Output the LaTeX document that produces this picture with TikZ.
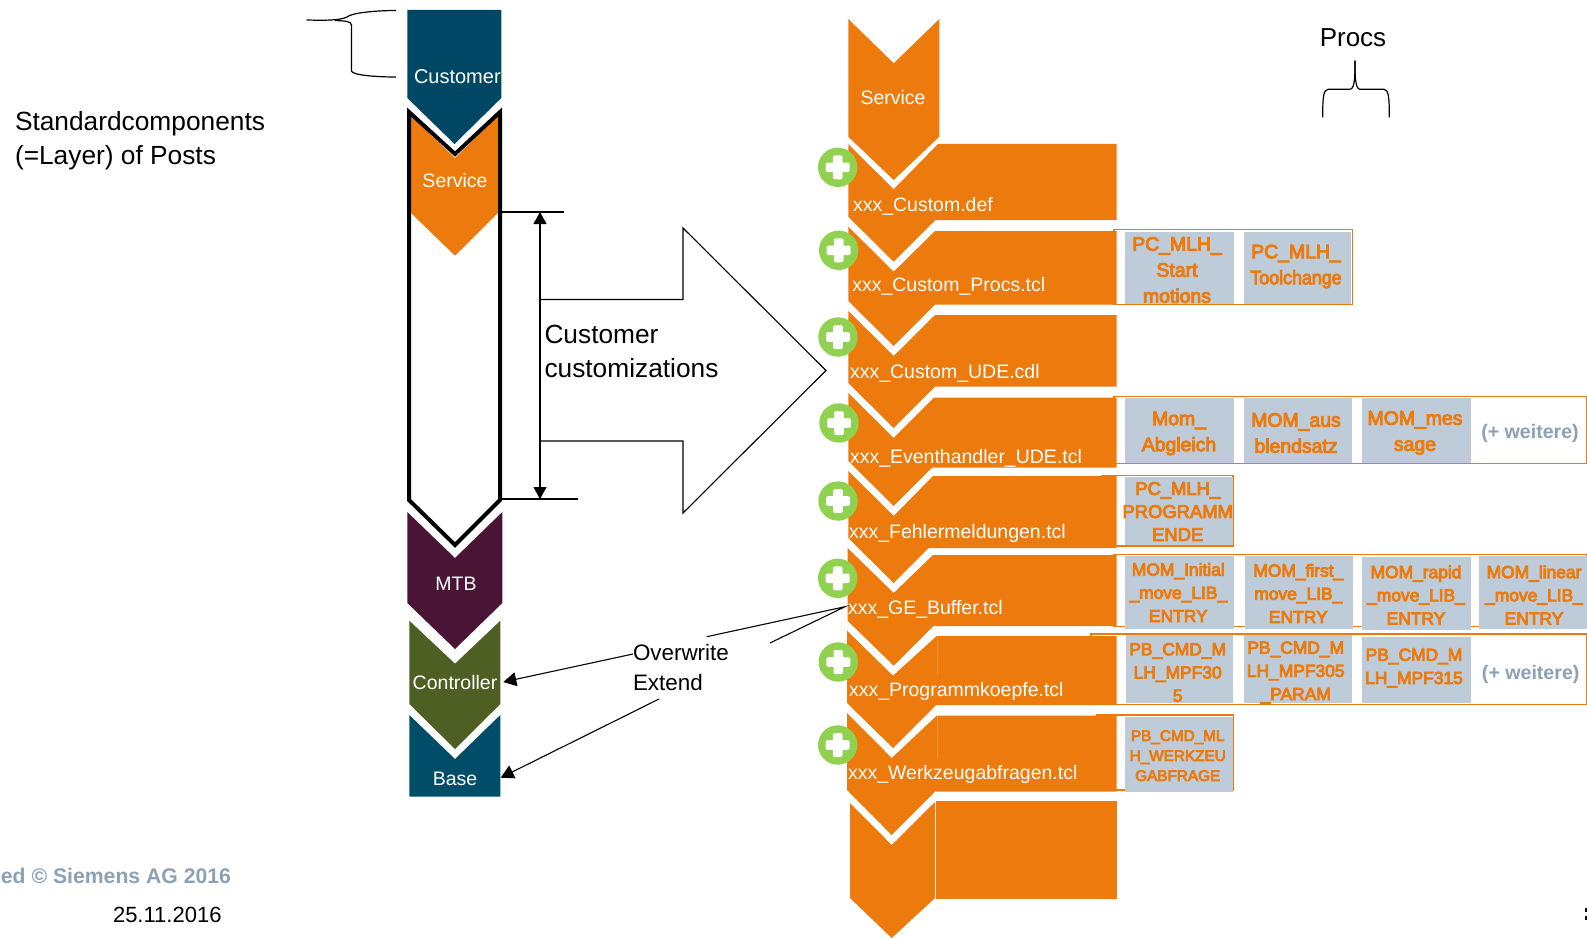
\documentclass[tikz,border=0pt]{standalone}
\usepackage{fontspec}
\usepackage{graphicx}
\setmainfont{Liberation Sans}
\newfontfamily\procfont[FakeBold=5]{Liberation Sans}
\usetikzlibrary{arrows.meta}
\definecolor{sorange}{HTML}{EC7A0C}
\definecolor{sblue}{HTML}{004765}
\definecolor{sbase}{HTML}{004D6A}
\definecolor{smtb}{HTML}{4A1535}
\definecolor{solive}{HTML}{4E5F23}
\definecolor{sgreen}{HTML}{90D150}
\definecolor{sbox}{HTML}{BDCCD8}
\definecolor{sgrey}{HTML}{8CA2B4}
\newcommand{\fs}[2]{\fontsize{#1}{#2}\selectfont}
\newcommand{\sq}[2]{\scalebox{#1}[1]{#2}}
\tikzset{
  x=1pt,y=-1pt,
  plainlabel/.style={inner sep=0,outer sep=0,font=\fs{26.3}{34},anchor=west,align=left},
  whitelabel/.style={inner sep=0,outer sep=0,text=white,font=\fs{19.5}{24}},
  rowlabel/.style={whitelabel,anchor=west},
  rowshape/.style={fill=sorange,draw=none},
  procframe/.style={draw=sorange,line width=1.3pt,fill=white},
  procbox/.style={fill=sbox,draw=none},
  proctext/.style={inner sep=0,outer sep=0,text=sorange,align=center},
  moretext/.style={inner sep=0,outer sep=0,text=sgrey,font=\bfseries\fs{19.6}{24}},
  thin line/.style={draw=black,line width=1.1pt},
  tip line/.style={draw=black,line width=1.1pt,-{Triangle[length=13pt,width=14pt]}},
  brace line/.style={draw=black,line width=1.2pt},
}
\newcommand{\addmark}[3]{%
  \fill[sgreen] (#1,#2) circle[radius=19.7];
  \fill[white,rounded corners=2pt] (#1-12,#2-4.8) rectangle (#1+12,#2+4.8);
  \fill[white,rounded corners=2pt] (#1-4.8,#2-12) rectangle (#1+4.8,#2+12);
}
% row: L C N R B T(next notch -10) rightnotchx
\newcommand{\orow}[7]{%
  \fill[rowshape] (#1,#3-45) -- (#2,#3) -- (#7,#4) -- (1116.7,#4) -- (1116.7,#5)
    -- ({#2+(#6-#5)},#5) -- (#2,#6) -- (#1,#6-45) -- cycle;
}
\begin{document}
\begin{tikzpicture}
\useasboundingbox (0,0) rectangle (1587,939);
\fill[white] (0,0) rectangle (1587,939);

% left stack
\fill[sblue] (407.3,10) -- (501.3,10) -- (501.3,98) -- (454.5,144) -- (407.3,98) -- cycle;
\node[whitelabel,font=\fs{20}{24},anchor=west] (customer) at (414,76.5) {Customer};
\fill[sorange] (411,116) -- (455,158) -- (498,116) -- (498,213) -- (455,255.7) -- (411,213) -- cycle;
\draw[black,line width=4pt,miter limit=4] (409,112) -- (455,154) -- (500,112) -- (500,500) -- (455,545) -- (409,500) -- cycle;
\node[whitelabel] (service) at (455,181) {Service};
\fill[smtb] (407.3,512) -- (455,558) -- (502.3,512) -- (502.3,603) -- (455,649) -- (407.3,603) -- cycle;
\node[whitelabel] (mtb) at (456,584) {MTB};
\fill[solive] (409.3,620.7) -- (455,663.7) -- (500.3,620.7) -- (500.3,704) -- (455,749) -- (409.3,704) -- cycle;
\node[whitelabel] (controller) at (455,683) {Controller};
\fill[sbase] (409.3,715) -- (455,759) -- (500.3,715) -- (500.3,796.7) -- (409.3,796.7) -- cycle;
\node[whitelabel] (base) at (455,779) {Base};

% left brace
\draw[brace line] (306.7,20) .. controls (325,20.5) and (340,20.5) .. (347,17) .. controls (351,13) and (375,10.5) .. (396,10.5);
\draw[brace line] (335,20.5) .. controls (345,21) and (351,21) .. (351.5,25) -- (351.5,71) .. controls (352,75) and (375,77) .. (396,77);
\node[plainlabel] (std) at (15,140.5) {Standardcomponents\\(=Layer) of Posts};

% dimension
\coordinate (dimtop) at (540,212);
\coordinate (dimbot) at (540,499);
\draw[thin line,line width=1.3pt] (500,212) -- (564,212);
\draw[thin line,line width=1.3pt] (500,499) -- (578,499);
\draw[thin line,{Triangle[length=12pt,width=13pt]}-{Triangle[length=12pt,width=13pt]}] (dimtop) -- (dimbot);

% big arrow
\draw[thin line,miter limit=8] (540,299.5) -- (683,299.5) -- (683,228) -- (826,370.5) -- (683,513) -- (683,441) -- (540,441);
\node[plainlabel] (cust) at (544.5,351) {Customer\\customizations};

% right stack rows
\fill[sorange] (848.3,19) -- (893.7,63.3) -- (939.3,19) -- (939.3,136.7) -- (893.7,180) -- (848.3,136.7) -- cycle;
\node[whitelabel] (svc2) at (893,98) {Service};

% proc frames below the rows
\draw[procframe] (1114,229.3) rectangle (1352.3,304.7);
\draw[procframe] (1114,396.7) rectangle (1586.7,463.3);
\draw[procframe] (1102,475.7) rectangle (1233,546);
\draw[procframe] (1114,554.7) rectangle (1586.7,626.7);
\draw[procframe] (1091,634) rectangle (1586.7,704.7);
\draw[procframe] (1097,715) rectangle (1233.3,790);

\orow{848.3}{893.7}{189.3}{144}{220}{261.7}{938}
\orow{848.3}{893.7}{271.7}{231}{304.7}{346}{935}
\orow{848.3}{893.7}{356}{315}{386.7}{428}{935}
\orow{848.3}{893.7}{438}{397.7}{467.7}{506}{934}
\orow{848.3}{893.7}{516}{476}{548}{583}{933}
\orow{847.5}{893.7}{593}{555}{626}{665.7}{933}
\orow{847}{893}{675.7}{636}{705}{748}{936.7}
\orow{847}{891.7}{758}{715.7}{791.7}{835}{936.7}
\fill[rowshape] (850,803) -- (891.7,845) -- (935,802) -- (935,898) -- (891.7,938) -- (850,898) -- cycle;
\fill[rowshape] (936,801) rectangle (1116.7,899);
\draw[sorange!80!white,line width=.4pt] (936.7,636) -- (936.7,675);
\draw[sorange!80!white,line width=.4pt] (936.7,716) -- (936.7,758);

% row labels
\node[rowlabel] (r1) at (853,206) {xxx\_Custom.def};
\node[rowlabel] (r2) at (852.3,286.5) {xxx\_Custom\_Procs.tcl};
\node[rowlabel] (r3) at (850,373.5) {xxx\_Custom\_UDE.cdl};
\node[rowlabel] (r4) at (850,458.5) {xxx\_Eventhandler\_UDE.tcl};
\node[rowlabel] (r5) at (849,533.5) {xxx\_Fehlermeldungen.tcl};
\node[rowlabel] (r6) at (848,609) {xxx\_GE\_Buffer.tcl};
\node[rowlabel] (r7) at (849,691) {xxx\_Programmkoepfe.tcl};
\node[rowlabel] (r8) at (848,774) {xxx\_Werkzeugabfragen.tcl};

% add marks
\addmark{837.7}{167.3}{}
\addmark{838.7}{250.3}{}
\addmark{838}{337}{}
\addmark{839}{423}{}
\addmark{838}{501}{}
\addmark{837.7}{578.3}{}
\addmark{838.3}{662}{}
\addmark{837.7}{745}{}

% proc boxes
\fill[procbox] (1125,232) rectangle (1234,304);
\fill[procbox] (1244,232) rectangle (1351.3,304);
\fill[procbox] (1125,398) rectangle (1234,463);
\fill[procbox] (1244,398) rectangle (1352,463);
\fill[procbox] (1362,398) rectangle (1471,463);
\fill[procbox] (1125,476.5) rectangle (1232.5,545);
\fill[procbox] (1125,556) rectangle (1234,628.7);
\fill[procbox] (1245,556) rectangle (1353,628.7);
\fill[procbox] (1362,556.7) rectangle (1471,630);
\fill[procbox] (1479,556) rectangle (1587,629);
\fill[procbox] (1126,635) rectangle (1233,703.3);
\fill[procbox] (1244,635) rectangle (1352,703.3);
\fill[procbox] (1362,637) rectangle (1471,703.3);
\fill[procbox] (1125,716.7) rectangle (1233,791.7);

\tikzset{pa/.style={proctext,font=\procfont\fs{19.4}{26}},
         pb/.style={proctext,font=\procfont\fs{18.4}{23}},
         pc/.style={proctext,font=\procfont\fs{17.4}{23.2}},
         pd/.style={proctext,font=\procfont\fs{15.3}{20}}}
\node[pa] (p1) at (1177,270) {PC\_MLH\_\\Start\\motions};
\node[pa] (p2) at (1296,266.5) {PC\_MLH\_\\\sq{.92}{Toolchange}};
\node[pa] (p3) at (1179,433.5) {Mom\_\\Abgleich};
\node[pa] (p4) at (1296,433) {MOM\_aus\\blendsatz};
\node[pa] (p5) at (1415,433) {MOM\_mes\\sage};
\node[moretext] (m1) at (1530,433.7) {(+ weitere)};
\node[pb] (p6) at (1177.7,511.5) {PC\_MLH\_\\PROGRAMM\\ENDE};
\node[pc] (p7) at (1178.3,592.5) {MOM\_Initial\\\_move\_LIB\_\\ENTRY};
\node[pc] (p8) at (1298.3,593.5) {MOM\_first\_\\move\_LIB\_\\ENTRY};
\node[pc] (p9) at (1416,595) {MOM\_rapid\\\_move\_LIB\_\\ENTRY};
\node[pc] (p10) at (1534,595) {MOM\_linear\\\_move\_LIB\_\\ENTRY};
\node[pc] (p11) at (1177.7,672.5) {PB\_CMD\_M\\LH\_MPF30\\5};
\node[pc] (p12) at (1295.7,672.5) {PB\_CMD\_M\\LH\_MPF305\\\_PARAM};
\node[pc] (p13) at (1414,668) {PB\_CMD\_M\\LH\_MPF315};
\node[moretext] (m2) at (1530.7,674.7) {(+ weitere)};
\node[pd] (p14) at (1177.7,755.7) {PB\_CMD\_ML\\H\_WERKZEU\\GABFRAGE};

% Overwrite / Extend
\node[inner sep=0,outer sep=0,anchor=west,font=\fs{22.4}{30}] (ovw) at (633,652) {Overwrite};
\node[inner sep=0,outer sep=0,anchor=west,font=\fs{22.4}{30}] (ext) at (633,682) {Extend};
\coordinate (ctrltip) at (503.3,682);
\coordinate (basetip) at (500.7,777.7);
\coordinate (ovwstart) at (633,654);
\coordinate (extstart) at (659,699);
\coordinate (ge) at (845,606.7);
\coordinate (geA) at (706.7,636.7);
\coordinate (geB) at (770,643);
\draw[tip line] (ovwstart) -- (ctrltip);
\draw[tip line] (extstart) -- (basetip);
\draw[thin line] (geA) -- (ge) -- (geB);

% Procs
\node[inner sep=0,outer sep=0,font=\fs{26}{30}] (procs) at (1353,38) {Procs};
\draw[brace line] (1355,60.7) .. controls (1355,75) and (1355,89) .. (1350,89.3) -- (1328,89.3) .. controls (1323,89.3) and (1322.7,100) .. (1322.7,117.3);
\draw[brace line] (1355,60.7) .. controls (1355,75) and (1355,89) .. (1360,89.3) -- (1384,89.3) .. controls (1389,89.3) and (1389.3,100) .. (1389.3,117.3);

% footer
\node[inner sep=0,outer sep=0,anchor=east,text=sgrey,font=\bfseries\fs{21.2}{26}] (copy) at (231,876) {ed © Siemens AG 2016};
\node[inner sep=0,outer sep=0,anchor=east,font=\fs{22}{26}] (date) at (221.5,915) {25.11.2016};
\fill[black] (1585,908) rectangle (1587,912);
\fill[black] (1585,916) rectangle (1587,920);
\end{tikzpicture}
\end{document}
